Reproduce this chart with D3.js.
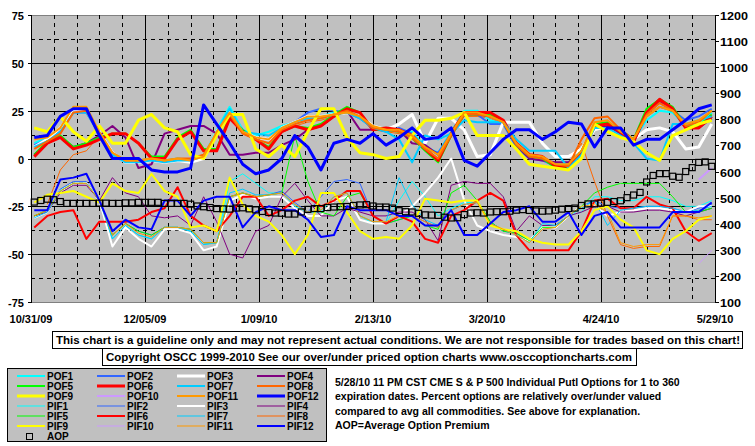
<!DOCTYPE html>
<html>
<head>
<meta charset="utf-8">
<script src="https://cdn.jsdelivr.net/npm/d3@7"></script>
<style>
  body { margin: 0; background: #fff; }
  svg text { font-family: "Liberation Sans", Arial, sans-serif; font-weight: bold; font-size: 11px; fill: #000; }
</style>
</head>
<body>
<svg id="chart" width="755" height="446"></svg>
<script>
// tick labels
const dateTicks = ['10/31/09', '12/05/09', '1/09/10', '2/13/10', '3/20/10', '4/24/10', '5/29/10'];
const leftTicks = [-75, -50, -25, 0, 25, 50, 75];
const rightTicks = [100, 200, 300, 400, 500, 600, 700, 800, 900, 1000, 1100, 1200];

// sample positions, days after 10/31/09
const lineDays = d3.range(1, 210, 4);
const aopDays = d3.range(1, 210, 2);

// percent over/under valued, put options
const POF1 = [8, 11, 15, 25, 25, 14, 3, -1, -1, 0, -1, 0, -1, 1, 15, 27, 15, 12, 14, 17, 19, 22, 22, 24, 25, 22, 17, 15, 15, 14, 6, 3, 14, 25, 25, 20, 18, 7, 1, 0, -3, -3, 4, 17, 17, 12, 10, 20, 25, 24, 17, 18, 24];
const POF2 = [7, 10, 15, 24, 24, 13, 2, -2, -2, -1, -2, -1, -1, 0, 13, 25, 13, 11, 10, 15, 19, 24, 26, 25, 24, 21, 16, 14, 16, 13, 5, 3, 13, 24, 23, 18, 18, 6, 0, -1, -4, -4, 3, 16, 17, 12, 9, 22, 27, 25, 20, 22, 26];
const POF3 = [6, 10, 16, 25, 25, 14, 3, -2, -2, -1, -2, -1, -2, 0, 14, 24, 14, 11, 10, 16, 19, 22, 22, 23, 24, 22, 17, 15, 18, 23, 8, 21, 21, 15, 1, 2, 19, 19, 19, 8, 1, 1, 5, 15, 17, 11, 10, 15, 16, 14, 5, 6, 18];
const POF4 = [2, 8, 11, 6, 8, 12, 17, 11, -5, -3, 13, 15, 17, 17, 13, 2, 2, 3, 3, 7, 10, 15, 17, 22, 25, 15, 15, 15, 15, 8, 7, 2, 12, 23, 23, 22, 19, 7, 0, -1, -2, -2, 3, 16, 17, 13, 8, 24, 30, 26, 16, 16, 21];
const POF5 = [2, 9, 12, 6, 8, 11, 13, 13, 8, 1, 1, 11, 15, 5, 5, 22, 15, 10, 6, 14, 17, 16, 18, 23, 27, 24, 15, 15, 14, 11, 4, -2, 12, 23, 23, 23, 19, 7, 1, 0, -5, -5, 4, 18, 19, 15, 10, 26, 31, 27, 17, 17, 23];
const POF6 = [1, 8, 11, 5, 7, 10, 13, 13, 8, 0, 0, 10, 14, 4, 4, 21, 14, 10, 5, 14, 17, 15, 17, 22, 26, 24, 15, 16, 15, 12, 5, -1, 13, 24, 24, 24, 20, 8, 2, 1, -4, -4, 3, 17, 18, 14, 9, 24, 31, 26, 16, 16, 22];
const POF7 = [6, 9, 14, 24, 24, 13, 2, -2, -2, -1, -2, -1, -1, 1, 14, 26, 14, 13, 12, 16, 19, 21, 21, 23, 24, 21, 16, 14, 10, -2, 12, 10, 13, 20, 19, 19, 19, 10, 4, 4, 4, -5, 2, 16, 16, 12, 8, 0, -1, 18, 18, 20, 22];
const POF8 = [5, 9, 13, 24, 25, 13, 3, -1, -1, 0, -1, 0, 0, 2, 13, 23, 13, 10, 8, 15, 18, 20, 21, 23, 25, 22, 16, 15, 14, 11, 5, 0, 12, 23, 23, 22, 19, 7, 1, 0, -3, -4, 10, 21, 22, 15, 10, 23, 29, 25, 17, 19, 25];
const POF9 = [16, 14, 22, 14, 9, 17, 8, 8, 20, 23, 16, 14, 2, 0, 12, 23, 23, 5, 1, 7, 1, 14, 26, 26, 11, 3, 2, 0, 1, 12, 20, 20, 21, 24, 12, 12, 12, 5, -3, -4, -5, -6, 0, 18, 14, 11, 9, 3, -1, 12, 15, 18, 20];
const POF10 = [null, null, null, null, null, null, null, null, null, null, null, null, null, null, null, null, null, null, null, null, null, null, null, null, null, null, null, null, null, null, null, null, null, null, null, null, null, null, null, null, null, null, null, null, null, null, null, null, null, null, null, -11, -5];
const POF11 = [10, 11, 16, 27, 27, 14, 3, -1, -1, 0, -1, 0, -1, 1, 14, 24, 14, 11, 10, 16, 19, 22, 22, 23, 24, 22, 17, 15, 15, 12, 6, 2, 13, 24, 24, 22, 19, 8, 2, 1, -3, -3, 4, 19, 20, 14, 10, 22, 27, 25, 18, 20, 25];
const POF12 = [11, 12, 22, 26, 26, 12, 0, 0, 0, -6, -7, -7, -5, 28, 18, 8, -3, -8, -6, 0, 12, 6, -6, 8, 10, 8, 13, 7, 11, 16, 10, 11, 16, -1, -4, 3, 10, 15, 15, 10, 14, 19, 18, 6, 16, 16, 7, 10, 10, 15, 20, 26, 28];

const PIF1 = [-30, -27, -16, -13, -13, -22, -42, -35, -40, -42, -36, -36, -38, -45, -44, -12, -8, -13, -18, -18, -25, -28, -28, -20, -18, -30, -34, -34, -22, -12, -20, -30, -26, -23, -23, -33, -38, -39, -43, -36, -36, -30, -28, -20, -20, -22, -22, -20, -20, -22, -25, -25, -22];
const PIF2 = [-30, -28, -16, -12, -12, -22, -40, -34, -38, -40, -36, -36, -37, -44, -44, -20, -18, -20, -19, -17, -23, -28, -20, -12, -11, -13, -30, -34, -32, -30, -33, -36, -27, -24, -23, -33, -38, -39, -43, -37, -36, -30, -25, -22, -25, -26, -26, -25, -25, -26, -28, -26, -24];
const PIF3 = [-31, -28, -17, -13, -13, -22, -46, -36, -42, -46, -37, -37, -39, -48, -46, -22, -19, -21, -20, -20, -26, -30, -30, -22, -20, -32, -34, -34, -30, -25, -18, -10, 0, -22, -35, -38, -40, -41, -43, -36, -36, -30, -25, -24, -30, -28, -27, -26, -26, -27, -28, -25, -25];
const PIF4 = [-30, -28, -18, -14, -14, -22, -10, -18, -20, -30, -31, -30, -35, -20, -33, -50, -52, -38, -35, -20, -13, -22, -30, -30, -26, -28, -30, -30, -28, -28, -32, -43, -14, -12, -13, -13, -20, -38, -30, -35, -35, -30, -28, -25, -25, -28, -28, -27, -27, -28, -30, -28, -26];
const PIF5 = [-30, -27, -17, -13, -13, -22, -40, -34, -38, -40, -36, -36, -37, -44, -44, -20, -18, -20, -19, -18, 12, -12, -28, -30, -20, -18, -30, -34, -32, -30, -35, -37, -18, -14, -22, -33, -38, -39, -43, -36, -36, -30, -25, -18, -15, -13, -13, -13, -13, -20, -28, -28, -26];
const PIF6 = [-36, -30, -28, -27, -42, -33, -33, -33, -32, -28, -26, -15, -30, -35, -38, -30, -20, -20, -30, -27, -22, -20, -25, -22, -17, -17, -30, -34, -30, -33, -42, -44, -30, -27, -22, -18, -22, -40, -48, -48, -48, -48, -38, -22, -21, -26, -26, -20, -24, -26, -38, -43, -39];
const PIF7 = [-31, -28, -17, -13, -13, -22, -42, -35, -40, -42, -36, -36, -38, -45, -44, -18, -16, -19, -19, -18, -24, -28, -27, -20, -18, -30, -33, -33, -10, -24, -32, -35, -27, -24, -23, -34, -37, -40, -44, -34, -35, -30, -26, -22, -35, -27, -26, -25, -25, -26, -28, -27, -25];
const PIF8 = [null, -24, -6, 2, 4, 12, 2, -1, -1, 0, -1, 0, 0, 2, 12, 22, 13, 10, 8, 14, 17, 19, 20, 22, 24, 21, 15, 14, 13, 10, 4, 0, 11, 22, 22, 21, 18, 6, 0, -1, -3, -4, 8, -12, -30, -45, -47, -46, -46, -30, -30, -32, -32];
const PIF9 = [-23, -19, -18, -17, -20, -23, -13, -17, -18, -8, -17, -20, -36, -35, -38, -10, -24, -30, -33, -40, -50, -40, -18, -18, -28, -38, -42, -41, -42, -35, -21, -22, -23, -22, -22, -35, -37, -38, -42, -44, -45, -45, -38, -27, -25, -32, -36, -48, -50, -42, -38, -32, -30];
const PIF10 = [null, null, null, null, null, null, null, null, null, null, null, null, null, null, null, null, null, null, null, null, null, null, null, null, null, null, null, null, null, null, null, null, null, null, null, null, null, null, null, null, null, null, null, null, null, null, null, null, null, null, null, -55, -48];
const PIF11 = [-30, -27, -17, -13, -13, -22, -40, -34, -39, -41, -36, -36, -37, -44, -44, -20, -18, -20, -19, -18, -24, -28, -27, -20, -18, -30, -33, -33, -30, -30, -33, -36, -27, -24, -23, -34, -37, -40, -44, -37, -36, -30, -25, -24, -28, -44, -46, -45, -45, -30, -30, -31, -30];
const PIF12 = [-27, -27, -11, -10, -8, -22, -38, -32, -36, -37, -22, -22, -30, -22, -20, -20, -36, -28, -25, -27, -27, -32, -41, -40, -25, -27, -27, -27, -30, -30, -35, -35, -27, -40, -40, -34, -28, -27, -25, -33, -33, -28, -40, -30, -28, -36, -36, -36, -36, -28, -28, -28, -23];

// average option premium (right axis)
const AOP = [483, 489, 494, 492, 485, 478, 478, 478, 478, 478, 479, 479, 478, 478, 480, 480, 482, 482, 482, 482,
  478, 478, 478, 478, 475, 468, 465, 462, 458, 457, 456, 460, 461, 457, 453, 447, 443, 441, 440, 437,
  437, 445, 455, 458, 458, 462, 464, 465, 466, 470, 472, 473, 468, 464, 464, 460, 450, 446, 445, 440,
  434, 433, 432, 425, 422, 423, 435, 441, 442, 441, 445, 446, 446, 448, 452, 454, 451, 449, 448, 449,
  452, 456, 458, 460, 470, 476, 476, 479, 482, 485, 488, 500, 510, 520, 560, 585, 592, 592, 582, 578,
  600, 615, 635, 637, 620];

const colors = ['#00ffff', '#3366ff', '#ffffff', '#800080', '#00ff00', '#ff0000', '#00ccff', '#ff6600', '#ffff00', '#cc99ff', '#ff9900', '#0000ff'];
const pofWidths = [2, 2, 3, 2, 2, 3, 2, 2, 3, 2, 2, 3];
const pifWidths = [1, 1, 2, 1, 1, 2, 1, 1, 2, 1, 1, 2];

const pofData = [POF1, POF2, POF3, POF4, POF5, POF6, POF7, POF8, POF9, POF10, POF11, POF12];
const pifData = [PIF1, PIF2, PIF3, PIF4, PIF5, PIF6, PIF7, PIF8, PIF9, PIF10, PIF11, PIF12];

const pofSeries = pofData.map((vals, i) => ({name: 'POF' + (i + 1), values: vals, color: colors[i], width: pofWidths[i]}));
const pifSeries = pifData.map((vals, i) => ({name: 'PIF' + (i + 1), values: vals, color: colors[i], width: pifWidths[i]}));

const plot = {left: 31, top: 15, right: 715, bottom: 302};
const startDate = new Date(2009, 9, 31);
const parseDate = d3.timeParse('%m/%d/%y');
const svg = d3.select('#chart');

const x = d3.scaleTime()
    .domain([parseDate(dateTicks[0]), parseDate(dateTicks[dateTicks.length - 1])])
    .range([plot.left, plot.right]);
const yL = d3.scaleLinear().domain([-75, 75]).range([plot.bottom, plot.top]);
const yR = d3.scaleLinear().domain([100, 1200]).range([plot.bottom, plot.top]);

// plot background
svg.append('rect')
    .attr('x', plot.left + 0.5).attr('y', plot.top + 0.5)
    .attr('width', plot.right - plot.left).attr('height', plot.bottom - plot.top)
    .attr('fill', '#c0c0c0').attr('stroke', '#808080');

// grid: solid every 25, dashed half way
const grid = svg.append('g').attr('stroke', '#000').attr('stroke-width', 1);
d3.range(-62.5, 75, 12.5).forEach(v => {
    const yy = Math.round(yL(v)) + 0.5;
    grid.append('line')
        .attr('x1', plot.left).attr('x2', plot.right)
        .attr('y1', yy).attr('y2', yy)
        .attr('stroke-dasharray', v % 25 === 0 ? null : '4,4');
});
// vertical grid: weekly dashed, solid on the labelled dates
d3.range(7, 210, 7).forEach(d => {
    const xx = Math.round(x(d3.timeDay.offset(startDate, d))) + 0.5;
    grid.append('line')
        .attr('x1', xx).attr('x2', xx)
        .attr('y1', plot.top).attr('y2', plot.bottom)
        .attr('stroke-dasharray', d % 35 === 0 ? null : '4,4');
});

// axis lines
svg.append('line').attr('x1', plot.left + 0.5).attr('x2', plot.left + 0.5)
    .attr('y1', plot.top).attr('y2', plot.bottom + 1).attr('stroke', '#000');
svg.append('line').attr('x1', plot.right + 0.5).attr('x2', plot.right + 0.5)
    .attr('y1', plot.top).attr('y2', plot.bottom + 1).attr('stroke', '#000');

// left axis labels
leftTicks.forEach(v => {
    const yy = Math.round(yL(v)) + 0.5;
    svg.append('line').attr('x1', plot.left - 3).attr('x2', plot.left).attr('y1', yy).attr('y2', yy).attr('stroke', '#000');
    svg.append('text').attr('x', 24).attr('y', yy + 4).attr('text-anchor', 'end').text(v);
});

// right axis labels
rightTicks.forEach(v => {
    const yy = Math.round(yR(v)) + 0.5;
    svg.append('line').attr('x1', plot.right).attr('x2', plot.right + 4).attr('y1', yy).attr('y2', yy).attr('stroke', '#000');
    const label = String(v);
    svg.append('text').attr('x', 720).attr('y', yy + 4)
        .attr('textLength', label.length * 7).attr('lengthAdjust', 'spacingAndGlyphs')
        .text(label);
});

// date labels
dateTicks.forEach(t => {
    svg.append('text').attr('x', x(parseDate(t))).attr('y', 323)
        .attr('text-anchor', 'middle').text(t);
});

// lines
const lineDates = lineDays.map(d => d3.timeDay.offset(startDate, d));
const line = d3.line()
    .defined(d => d.v !== null)
    .x(d => x(d.date))
    .y(d => yL(d.v));

const lines = svg.append('g')
    .attr('fill', 'none')
    .attr('stroke-linejoin', 'round');

pifSeries.concat(pofSeries).forEach(s => {
    lines.append('path')
        .datum(s.values.map((v, i) => ({date: lineDates[i], v: v})))
        .attr('d', line)
        .attr('stroke', s.color)
        .attr('stroke-width', s.width);
});

// AOP squares
svg.append('g').selectAll('rect')
    .data(AOP.map((v, i) => ({date: d3.timeDay.offset(startDate, aopDays[i]), v: v})))
    .join('rect')
    .attr('x', d => x(d.date) - 3)
    .attr('y', d => yR(d.v) - 3)
    .attr('width', 6).attr('height', 6)
    .attr('fill', 'none')
    .attr('stroke', '#000')
    .attr('stroke-width', 1.2);

// disclaimer boxes
svg.append('rect').attr('x', 52.5).attr('y', 331.5).attr('width', 690).attr('height', 17)
    .attr('fill', '#fff').attr('stroke', '#000');
svg.append('text').attr('x', 56).attr('y', 344)
    .attr('textLength', 684).attr('lengthAdjust', 'spacingAndGlyphs')
    .text('This chart is a guideline only and may not represent actual conditions. We are not responsible for trades based on this chart!');
svg.append('rect').attr('x', 102.5).attr('y', 348.5).attr('width', 534).attr('height', 17)
    .attr('fill', '#fff').attr('stroke', '#000');
svg.append('text').attr('x', 106).attr('y', 361)
    .attr('textLength', 526).attr('lengthAdjust', 'spacingAndGlyphs')
    .text('Copyright OSCC 1999-2010 See our over/under priced option charts www.osccoptioncharts.com');

// legend
svg.append('rect').attr('x', 7.5).attr('y', 368.5).attr('width', 319).attr('height', 73)
    .attr('fill', '#c0c0c0').attr('stroke', '#000');
const legendCols = [17, 97, 177, 257];
pofSeries.concat(pifSeries).forEach((s, i) => {
    const cx = legendCols[i % 4];
    const cy = 376 + Math.floor(i / 4) * 10;
    svg.append('line').attr('x1', cx).attr('x2', cx + 28).attr('y1', cy).attr('y2', cy)
        .attr('stroke', s.color).attr('stroke-width', s.width);
    svg.append('text').attr('x', cx + 30).attr('y', cy + 4)
        .style('font-size', '10px').text(s.name);
});
svg.append('rect').attr('x', 26.5).attr('y', 433.5).attr('width', 6).attr('height', 6)
    .attr('fill', 'none').attr('stroke', '#000');
svg.append('text').attr('x', 47).attr('y', 440).style('font-size', '10px').text('AOP');

// note text
const noteLines = [
    '5/28/10 11 PM CST CME S & P 500 Individual Putl Options for 1 to 360',
    'expiration dates. Percent options are relatively over/under valued',
    'compared to avg all commodities. See above for explanation.',
    'AOP=Average Option Premium'
];
noteLines.forEach((t, i) => {
    svg.append('text').attr('x', 335).attr('y', 386 + i * 14.3)
        .style('font-size', '10.5px')
        .text(t);
});
</script>
</body>
</html>
